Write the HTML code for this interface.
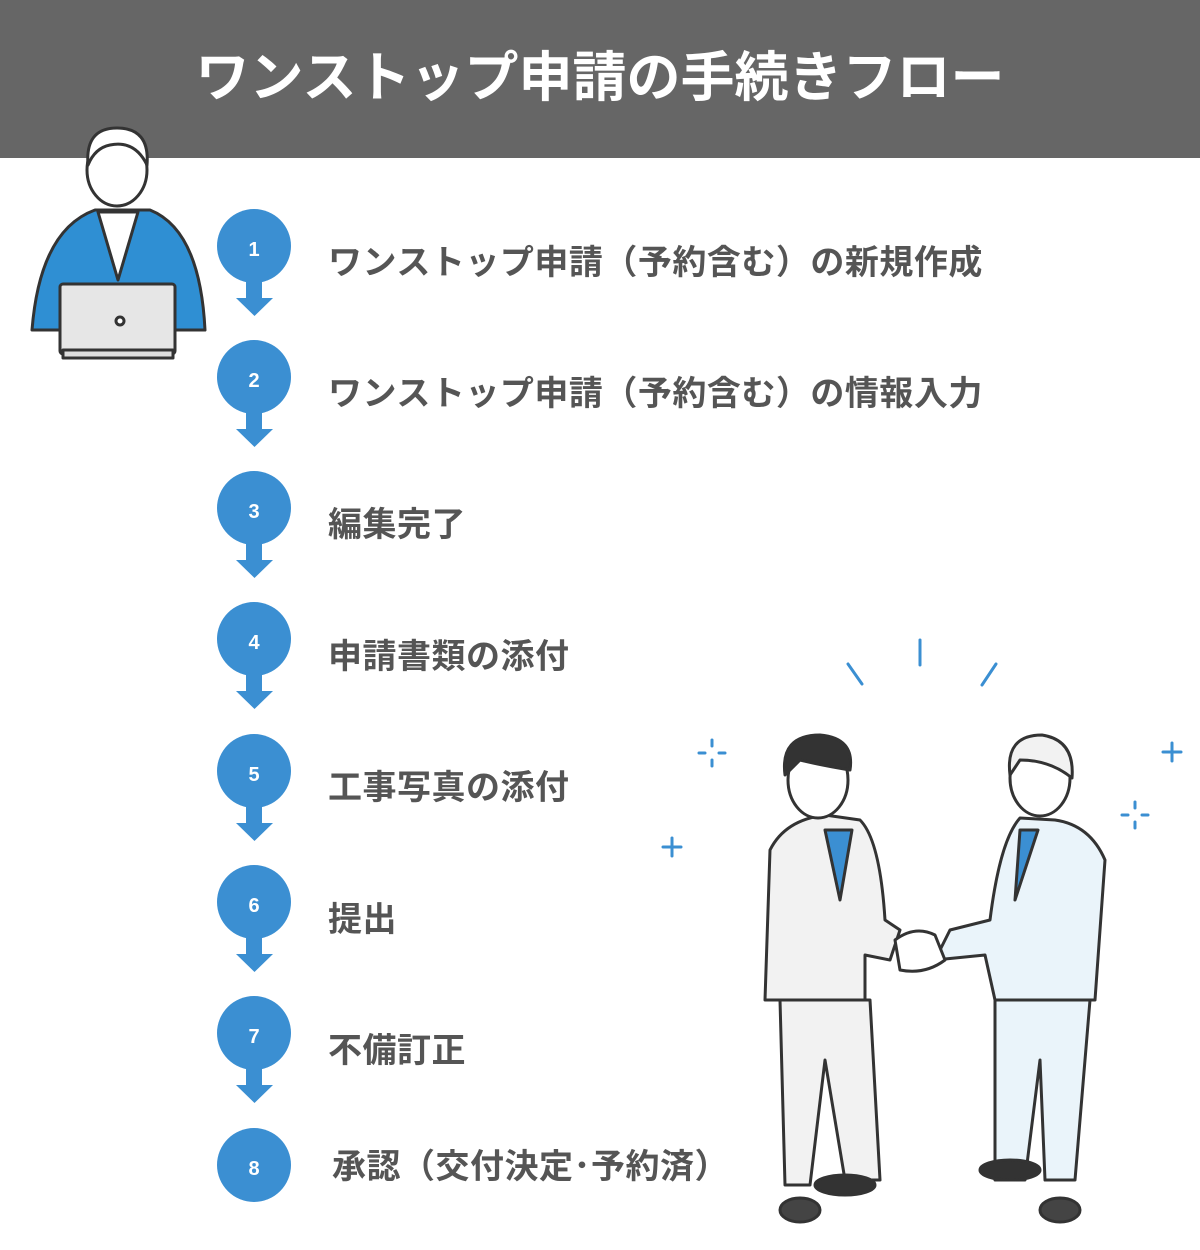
<!DOCTYPE html>
<html><head><meta charset="utf-8"><style>
body{margin:0;width:1200px;height:1250px;background:#fff;position:relative;overflow:hidden;font-family:"Liberation Sans","Noto Sans CJK JP",sans-serif}
.hd{position:absolute;left:0;top:0;width:1200px;height:158px;background:#666}
.hd div{position:absolute;left:0;width:1200px;top:42px;text-align:center;color:#fff;font-size:54px;font-weight:bold;line-height:72px;letter-spacing:0px}
.t{position:absolute;left:328px;font-size:34px;font-weight:bold;color:#555;line-height:40px;white-space:nowrap;letter-spacing:0.5px}
svg{position:absolute;left:0;top:0}
</style></head><body>
<div class="hd"><div>ワンストップ申請の手続きフロー</div></div>
<svg width="1200" height="1250">
<g fill="#3b8fd2">
<g id="s"><circle cx="254" cy="246" r="37"/><rect x="246" y="280" width="16" height="19"/><polygon points="236,298 273,298 254.5,316"/></g>
<use href="#s" y="131"/><use href="#s" y="262"/><use href="#s" y="393"/><use href="#s" y="525"/><use href="#s" y="656"/><use href="#s" y="787"/>
<circle cx="254" cy="1165" r="37"/>
</g>
<g fill="#fff" font-size="20" font-weight="bold" text-anchor="middle" font-family="Liberation Sans,sans-serif">
<text x="254" y="256">1</text><text x="254" y="387">2</text><text x="254" y="518">3</text><text x="254" y="649">4</text><text x="254" y="781">5</text><text x="254" y="912">6</text><text x="254" y="1043">7</text><text x="254" y="1175">8</text>
</g>
<g stroke="#333" stroke-width="3" stroke-linejoin="round">
<path d="M32,330 Q40,230 95,210 L150,210 Q200,230 205,330 Z" fill="#2f8fd3"/>
<path d="M98,212 L118,280 L138,212 Z" fill="#fff"/>
<ellipse cx="117" cy="170" rx="30" ry="36" fill="#fff"/>
<path d="M88,165 Q85,128 117,128 Q150,128 147,165 Q135,140 110,145 Q95,148 88,165Z" fill="#fff"/>
<rect x="60" y="284" width="115" height="70" rx="3" fill="#e6e6e6"/>
<rect x="63" y="350" width="110" height="8" fill="#ddd"/>
<circle cx="120" cy="321" r="4" fill="#fff"/>
</g>
<g stroke="#3b8fd2" stroke-width="3" stroke-linecap="round">
<line x1="920" y1="640" x2="920" y2="665"/><line x1="848" y1="664" x2="862" y2="684"/><line x1="996" y1="664" x2="982" y2="685"/>
<line x1="672" y1="838" x2="672" y2="856"/><line x1="663" y1="847" x2="681" y2="847"/>
<line x1="1172" y1="743" x2="1172" y2="761"/><line x1="1163" y1="752" x2="1181" y2="752"/>
<line x1="712" y1="740" x2="712" y2="746"/><line x1="712" y1="760" x2="712" y2="766"/><line x1="699" y1="753" x2="705" y2="753"/><line x1="719" y1="753" x2="725" y2="753"/>
<line x1="1135" y1="802" x2="1135" y2="808"/><line x1="1135" y1="822" x2="1135" y2="828"/><line x1="1122" y1="815" x2="1128" y2="815"/><line x1="1142" y1="815" x2="1148" y2="815"/>
</g>
<g stroke="#333" stroke-width="3" stroke-linejoin="round">
<path d="M765,1000 L770,850 Q785,820 825,815 L860,820 Q880,840 885,920 L900,930 L890,960 L865,955 L865,1000 Z" fill="#f2f2f2"/>
<path d="M780,1000 L870,1000 L880,1180 L845,1180 L825,1060 L810,1185 L785,1185 Z" fill="#f2f2f2"/>
<path d="M825,830 L840,900 L852,830Z" fill="#3b8fd2"/>
<ellipse cx="818" cy="780" rx="30" ry="38" fill="#fff"/>
<path d="M785,775 Q780,735 820,735 Q855,738 850,770 Q820,765 800,760Z" fill="#333"/>
<ellipse cx="845" cy="1185" rx="30" ry="10" fill="#333"/><ellipse cx="800" cy="1210" rx="20" ry="12" fill="#444"/>
<path d="M1095,1000 L1105,860 Q1090,825 1055,820 L1020,818 Q1000,840 990,920 L950,930 L935,960 L985,955 L995,1000 Z" fill="#eaf4fa"/>
<path d="M995,1000 L1090,1000 L1075,1180 L1045,1180 L1040,1060 L1025,1180 L995,1180 Z" fill="#eaf4fa"/>
<path d="M1020,830 L1015,900 L1038,830Z" fill="#3b8fd2"/>
<ellipse cx="1040" cy="778" rx="30" ry="38" fill="#fff"/>
<path d="M1010,775 Q1005,735 1042,735 Q1075,740 1072,778 Q1050,760 1020,760Z" fill="#f2f2f2"/>
<ellipse cx="1010" cy="1170" rx="30" ry="10" fill="#333"/><ellipse cx="1060" cy="1210" rx="20" ry="12" fill="#444"/>
<path d="M895,940 Q915,925 935,935 L945,960 Q925,975 900,970Z" fill="#fff"/>
</g>
</svg>
<div class="t" style="top:243px">ワンストップ申請（予約含む）の新規作成</div>
<div class="t" style="top:374px">ワンストップ申請（予約含む）の情報入力</div>
<div class="t" style="top:505px">編集完了</div>
<div class="t" style="top:637px">申請書類の添付</div>
<div class="t" style="top:768px">工事写真の添付</div>
<div class="t" style="top:900px">提出</div>
<div class="t" style="top:1031px">不備訂正</div>
<div class="t" style="top:1147px;left:332px">承認（交付決定･予約済）</div>
</body></html>
